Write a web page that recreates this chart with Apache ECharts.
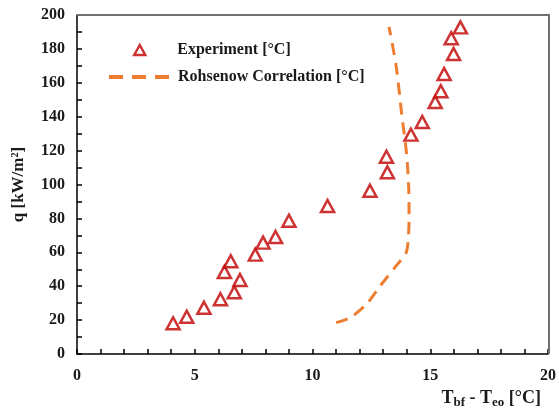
<!DOCTYPE html>
<html>
<head>
<meta charset="utf-8">
<script src="https://cdn.jsdelivr.net/npm/echarts@6/dist/echarts.min.js"></script>
<style>
  html, body { margin: 0; padding: 0; background: #fff; }
  #chart { width: 559px; height: 413px; }
</style>
</head>
<body>
<div id="chart"></div>
<script>
// measured data: wall superheat (°C) vs heat flux (kW/m²)
var expDT = [4.08, 4.66, 5.39, 6.09, 6.68, 6.92, 6.26, 6.53, 7.57, 7.9, 8.43, 9.0,
             10.64, 12.44, 13.18, 13.14, 14.18, 14.66, 15.21, 15.45, 15.59, 15.99, 15.89, 16.28];
var expQ  = [18.1, 22, 27.3, 32.3, 36.4, 43.7, 48.4, 54.7, 58.6, 65.7, 69, 78.6,
             87.3, 96.3, 107.2, 116.4, 129.4, 136.9, 148.7, 155, 165.2, 177, 186.3, 192.7];

// Rohsenow correlation curve
var rohDT = [11.0, 11.6, 12.3, 12.85, 13.55, 13.95, 14.05, 14.1, 14.08, 13.98, 13.8, 13.55, 13.25];
var rohQ  = [18.5, 21.5, 29.5, 39.7, 52, 59, 65, 80, 100, 120, 140, 170, 193];

var xTicks = [0, 5, 10, 15, 20];
var yTicks = [0, 20, 40, 60, 80, 100, 120, 140, 160, 180, 200];

var FONT = '"Liberation Serif", "Times New Roman", serif';
var TXT = '#1a1a1a';

function pairs(xs, ys) {
    return xs.map(function (x, i) { return [x, ys[i]]; });
}

var chart = echarts.init(document.getElementById('chart'));

var legendText = { fontFamily: FONT, fontWeight: 'bold', fontSize: 16, color: TXT };

chart.setOption({
    animation: false,
    grid: { left: 77, right: 10, top: 15, bottom: 59 },
    title: {
        text: '{b|T}{s|bf}{b| - T}{s|eo}{b| [°C]}',
        right: 13, top: 383,
        textStyle: {
            rich: {
                b: { fontFamily: FONT, fontWeight: 'bold', fontSize: 18, color: TXT },
                s: { fontFamily: FONT, fontWeight: 'bold', fontSize: 13, color: TXT, padding: [8, 0, 0, 0] }
            }
        }
    },
    legend: [
        {
            left: 133, top: 42, padding: 0,
            itemWidth: 11, itemHeight: 10,
            textStyle: Object.assign({ padding: [0, 0, 0, 27] }, legendText),
            data: [{
                name: 'Experiment [°C]', icon: 'triangle',
                itemStyle: { color: '#fff', borderColor: '#C00000', borderWidth: 2.5 }
            }]
        },
        {
            left: 107, top: 69, padding: 0,
            itemWidth: 64, itemHeight: 12,
            textStyle: legendText,
            data: [{
                name: 'Rohsenow Correlation [°C]',
                itemStyle: { opacity: 0 },
                lineStyle: { width: 4, type: [14, 9] }
            }]
        }
    ],
    xAxis: {
        type: 'value', min: 0, max: 20, interval: 5,
        axisLine: { onZero: false, lineStyle: { color: '#000', width: 1.5 } },
        axisTick: { inside: true, length: 5, lineStyle: { color: '#000', width: 1.5 } },
        minorTick: { show: true, splitNumber: 5, length: 5, lineStyle: { color: '#000', width: 1.5 } },
        splitLine: { show: false },
        axisLabel: {
            margin: 14, fontFamily: FONT, fontWeight: 'bold', fontSize: 16, color: TXT,
            formatter: function (v) { return xTicks.indexOf(v) >= 0 ? String(v) : ''; }
        }
    },
    yAxis: {
        type: 'value', min: 0, max: 200, interval: 20,
        name: 'q [kW/m²]', nameLocation: 'middle', nameGap: 50,
        nameTextStyle: { fontFamily: FONT, fontWeight: 'bold', fontSize: 17, color: TXT },
        axisLine: { show: true, onZero: false, lineStyle: { color: '#000', width: 1.5 } },
        axisTick: { inside: true, length: 5, lineStyle: { color: '#000', width: 1.5 } },
        minorTick: { show: true, splitNumber: 2, length: 5, lineStyle: { color: '#000', width: 1.5 } },
        splitLine: { show: false },
        axisLabel: {
            margin: 12, fontFamily: FONT, fontWeight: 'bold', fontSize: 16, color: TXT,
            formatter: function (v) { return yTicks.indexOf(v) >= 0 ? String(v) : ''; }
        }
    },
    graphic: [{
        // top/right frame of the plot area
        type: 'polyline', z: 10,
        shape: { points: [[77, 15], [549, 15], [549, 354]] },
        style: { stroke: '#707070', lineWidth: 2, fill: null }
    }],
    series: [
        {
            name: 'Experiment [°C]',
            type: 'scatter',
            symbol: 'triangle',
            symbolSize: [13, 12],
            itemStyle: { color: '#fff', borderColor: '#C00000', borderWidth: 2.5 },
            data: pairs(expDT, expQ),
            z: 3
        },
        {
            name: 'Rohsenow Correlation [°C]',
            type: 'line',
            smooth: 0.3,
            symbol: 'none',
            lineStyle: { color: '#ED7D31', width: 3, type: [12, 8] },
            itemStyle: { color: '#ED7D31' },
            data: pairs(rohDT, rohQ),
            z: 2
        }
    ]
});
</script>
</body>
</html>
